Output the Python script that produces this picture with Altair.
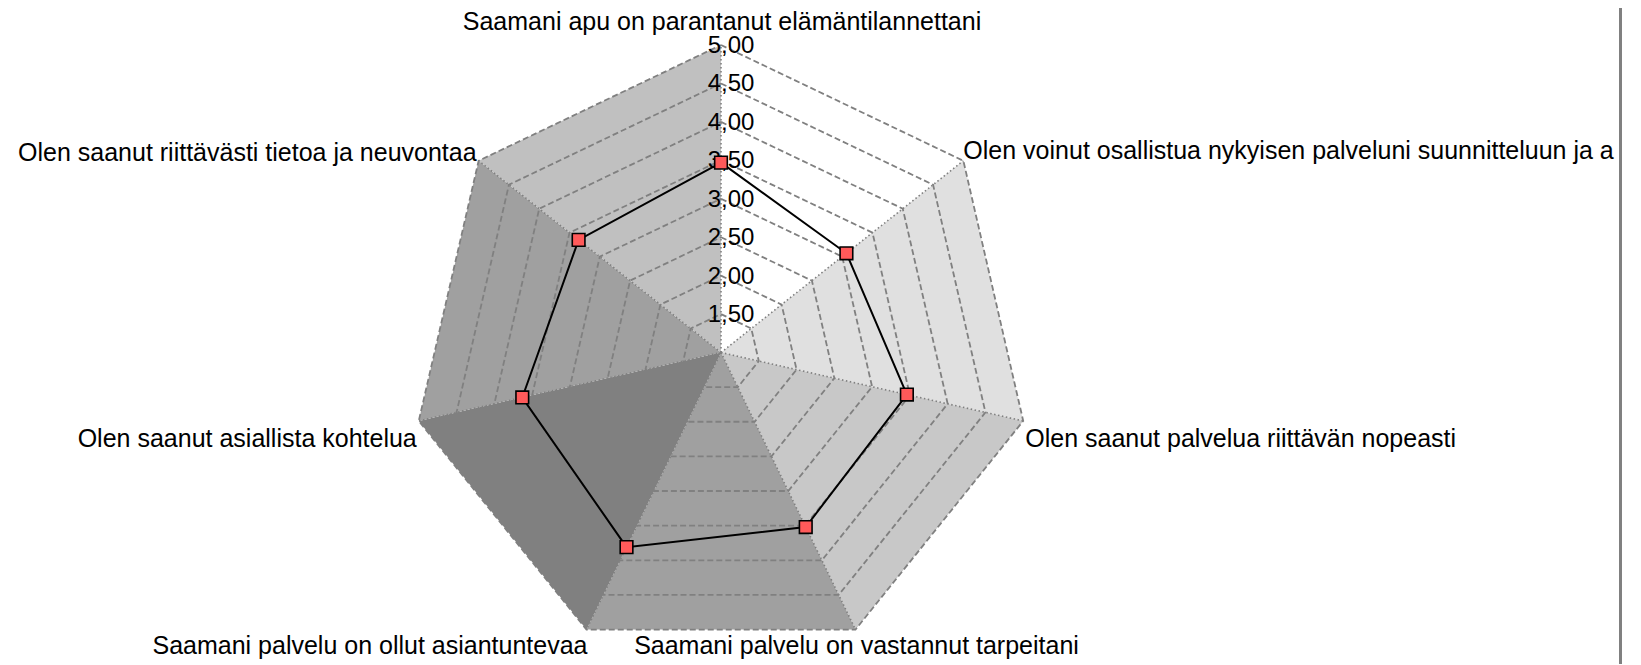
import math
import altair as alt
import pandas as pd

# ---------------- data ----------------
categories = [
    "Saamani apu on parantanut elämäntilannettani",
    "Olen voinut osallistua nykyisen palveluni suunnitteluun ja a",
    "Olen saanut palvelua riittävän nopeasti",
    "Saamani palvelu on vastannut tarpeitani",
    "Saamani palvelu on ollut asiantuntevaa",
    "Olen saanut asiallista kohtelua",
    "Olen saanut riittävästi tietoa ja neuvontaa",
]
values = [3.47, 3.07, 3.46, 3.52, 3.81, 3.63, 3.35]
tick_values = [1.5, 2.0, 2.5, 3.0, 3.5, 4.0, 4.5, 5.0]
tick_labels = ["1,50", "2,00", "2,50", "3,00", "3,50", "4,00", "4,50", "5,00"]
sector_colors = ["#FFFFFF", "#E0E0E0", "#C8C8C8", "#A0A0A0", "#808080", "#A0A0A0", "#C0C0C0"]
AXIS_MIN, AXIS_MAX = 1.0, 5.0

# ---------------- layout ----------------
W, H = 1625, 656
CX, CY = 713.0, 344.5          # centre of the radar in chart pixels
RX, RY = 310.0, 307.5          # outer radius in pixels (x / y)
span = AXIS_MAX - AXIS_MIN
ux, uy = RX / span, RY / span
xdom = [-CX / ux, (W - CX) / ux]
ydom = [-(H - CY) / uy, CY / uy]
FONT = "Liberation Sans"
FS = 25

n = len(categories)


def pos(i, v):
    a = 2 * math.pi * i / n
    r = v - AXIS_MIN
    return r * math.sin(a), r * math.cos(a)


X = alt.X("x:Q", scale=alt.Scale(domain=xdom, nice=False, zero=False), axis=None)
Y = alt.Y("y:Q", scale=alt.Scale(domain=ydom, nice=False, zero=False), axis=None)

# sectors
rows = []
for i in range(n):
    pts = [(0.0, 0.0), pos(i, AXIS_MAX), pos((i + 1) % n, AXIS_MAX), (0.0, 0.0)]
    for k, (x, y) in enumerate(pts):
        rows.append({"sec": i, "k": k, "x": x, "y": y, "col": sector_colors[i]})
sec_df = pd.DataFrame(rows)
sectors = alt.Chart(sec_df).mark_line(filled=True, strokeWidth=0).encode(
    x=X, y=Y, detail="sec:N", order="k:Q", color=alt.Color("col:N", scale=None)
)

# spokes
rows = []
for i in range(n):
    for k, v in enumerate([AXIS_MIN, AXIS_MAX]):
        x, y = pos(i, v)
        rows.append({"sp": i, "k": k, "x": x, "y": y})
spokes = alt.Chart(pd.DataFrame(rows)).mark_line(
    color="#808080", strokeWidth=1.6, strokeDash=[1.5, 2.5]
).encode(x=X, y=Y, detail="sp:N", order="k:Q")

# rings
rows = []
for tv in tick_values:
    for k in range(n + 1):
        x, y = pos(k % n, tv)
        rows.append({"ring": tv, "k": k, "x": x, "y": y})
rings = alt.Chart(pd.DataFrame(rows)).mark_line(
    color="#808080", strokeWidth=1.8, strokeDash=[6, 3]
).encode(x=X, y=Y, detail="ring:N", order="k:Q")

# tick labels
rows = []
for tv, tl in zip(tick_values, tick_labels):
    x, y = pos(0, tv)
    rows.append({"x": x, "y": y, "t": tl})
ticks = alt.Chart(pd.DataFrame(rows)).mark_text(
    font=FONT, fontSize=24, color="black", align="center", baseline="middle", dx=10, dy=1
).encode(x=X, y=Y, text="t:N")

# series
rows = []
for k in range(n + 1):
    i = k % n
    x, y = pos(i, values[i])
    rows.append({"k": k, "x": x, "y": y, "cat": categories[i], "v": values[i]})
ser_df = pd.DataFrame(rows)
line = alt.Chart(ser_df).mark_line(color="black", strokeWidth=2).encode(x=X, y=Y, order="k:Q")
points = alt.Chart(ser_df[ser_df["k"] < n]).mark_point(
    shape="square", filled=True, fill="#FF5A5A", stroke="black", strokeWidth=1.6, size=160, opacity=1
).encode(x=X, y=Y)

# category labels
label_style = [
    ("center", 1, -15),
    ("left", 0, -2),
    ("left", 2, 26),
    ("center", 1, 24),
    ("right", 1, 24),
    ("right", -2, 26),
    ("right", -2, 0),
]
label_layers = []
for i in range(n):
    x, y = pos(i, AXIS_MAX)
    al, dx, dy = label_style[i]
    label_layers.append(
        alt.Chart(pd.DataFrame([{"x": x, "y": y, "t": categories[i]}])).mark_text(
            font=FONT, fontSize=FS, color="black", align=al, baseline="alphabetic", dx=dx, dy=dy
        ).encode(x=X, y=Y, text="t:N")
    )

border = alt.Chart(pd.DataFrame({"a": [0]})).mark_rule(color="#808080", strokeWidth=3).encode(
    x=alt.value(1612.5), y=alt.value(-8), y2=alt.value(H)
)

chart = alt.layer(sectors, spokes, rings, ticks, line, points, *label_layers, border).properties(
    width=W, height=H, padding=0, autosize=alt.AutoSizeParams(type="none"), background="white"
).configure_view(stroke=None)

chart.save("out.html", embed_options={"renderer": "svg", "actions": False})
